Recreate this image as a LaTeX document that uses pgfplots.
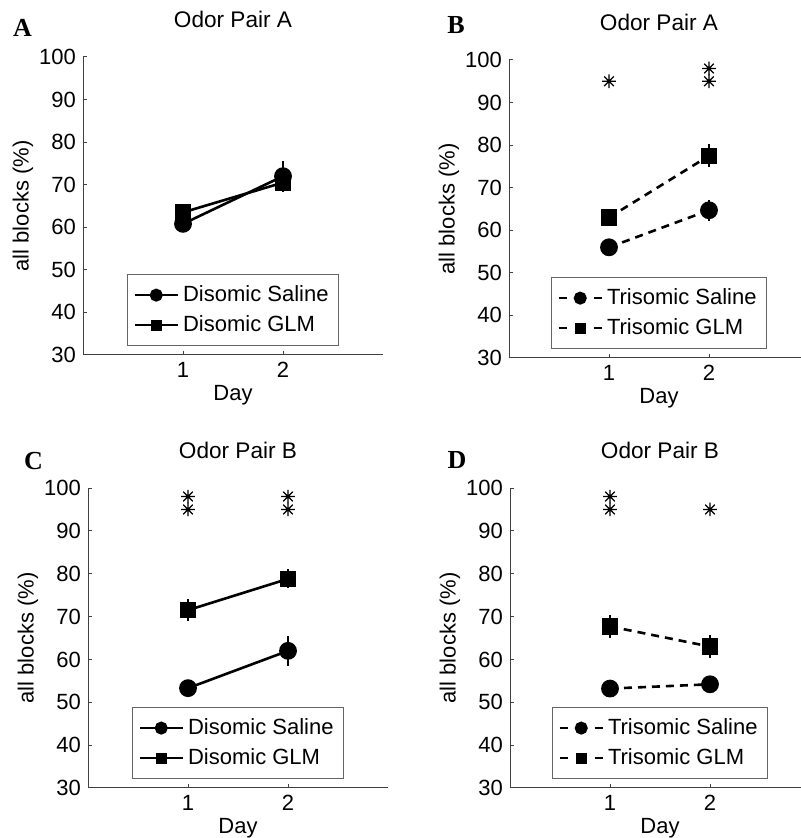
\documentclass[border=0pt]{standalone}
\usepackage{fontspec}
\setmainfont{Liberation Sans}
\newfontfamily\letterfont{Liberation Serif}
\usepackage{pgfplots}
\pgfplotsset{compat=1.18}

% MATLAB-style asterisk with eight arms
\pgfdeclareplotmark{ast8}{%
  \pgfpathmoveto{\pgfqpoint{0pt}{\pgfplotmarksize}}%
  \pgfpathlineto{\pgfqpoint{0pt}{-\pgfplotmarksize}}%
  \pgfpathmoveto{\pgfqpoint{\pgfplotmarksize}{0pt}}%
  \pgfpathlineto{\pgfqpoint{-\pgfplotmarksize}{0pt}}%
  \pgfpathmoveto{\pgfqpoint{.707\pgfplotmarksize}{.707\pgfplotmarksize}}%
  \pgfpathlineto{\pgfqpoint{-.707\pgfplotmarksize}{-.707\pgfplotmarksize}}%
  \pgfpathmoveto{\pgfqpoint{-.707\pgfplotmarksize}{.707\pgfplotmarksize}}%
  \pgfpathlineto{\pgfqpoint{.707\pgfplotmarksize}{-.707\pgfplotmarksize}}%
  \pgfusepathqstroke}

\pgfplotsset{
  panel/.style={
    scale only axis, width=150pt, height=149pt,
    xmin=0, xmax=3, ymin=30, ymax=100,
    xtick={1,2}, ytick={30,40,...,100},
    axis lines*=left,
    axis line style={black!75, line width=0.5pt},
    tick align=inside, major tick length=2pt,
    tick style={black!75, line width=0.5pt},
    ticklabel style={font=\fontsize{11}{12}\selectfont},
    /pgf/number format/assume math mode=true,
    xlabel={Day}, ylabel={all blocks (\%)},
    label style={font=\fontsize{11}{13}\selectfont},
    xlabel style={at={(axis description cs:0.5,0)}, anchor=center, yshift=-20pt},
    ylabel style={at={(axis description cs:-0.2,0.5)}, anchor=center},
    title style={at={(axis description cs:0.5,1)}, anchor=base, yshift=8.5pt,
      font=\fontsize{11.3}{13}\selectfont},
    legend style={at={(axis description cs:0.5,0.03)}, anchor=south,
      draw=black!60, line width=0.5pt, font=\fontsize{11}{12.5}\selectfont,
      cells={anchor=west}, inner xsep=3pt, inner ysep=3.5pt, row sep=1.5pt},
    legend image code/.code={%
      \draw[mark repeat=2, mark phase=2] plot coordinates {(0pt,0pt) (10.75pt,0pt) (21.5pt,0pt)};},
    clip=false,
  },
  dat/.style={black, line width=1.3pt, mark options={solid, fill=black},
    error bars/y dir=both, error bars/y explicit, error bars/error mark=none,
    error bars/error bar style={solid, line width=1.2pt}},
  sal/.style={mark=*, mark size=3.8pt},
  glm/.style={mark=square*, mark size=3.4pt},
  dsh/.style={dash pattern=on 4pt off 3pt},
  legsal/.style={black, line width=1.3pt, mark=*, mark size=2.6pt, mark options={solid}},
  legglm/.style={black, line width=1.3pt, mark=square*, mark size=2.1pt, mark options={solid}},
  legdsh/.style={dash pattern=on 4pt off 13.5pt},
  stars/.style={only marks, mark=ast8, mark size=3.4pt, black, line width=0.6pt},
}

\begin{document}
\begin{tikzpicture}
\path[use as bounding box] (0,0) rectangle (400pt,419pt);

% A
\begin{axis}[panel, at={(41.5pt,241.5pt)}, anchor=south west, title={Odor Pair A}]
\addlegendimage{legsal}
\addlegendentry{Disomic Saline}
\addlegendimage{legglm}
\addlegendentry{Disomic GLM}
\addplot[dat, sal, forget plot] coordinates {(1,60.8) +- (0,1.8) (2,72.0) +- (0,3.6)};
\addplot[dat, glm, forget plot] coordinates {(1,63.5) +- (0,2.0) (2,70.5) +- (0,1.8)};
\end{axis}

% B
\begin{axis}[panel, at={(254.5pt,240pt)}, anchor=south west, title={Odor Pair A}]
\addlegendimage{legsal, legdsh}
\addlegendentry{Trisomic Saline}
\addlegendimage{legglm, legdsh}
\addlegendentry{Trisomic GLM}
\addplot[dat, sal, dsh, forget plot] coordinates {(1,56.0) +- (0,1.0) (2,64.7) +- (0,2.5)};
\addplot[dat, glm, dsh, forget plot] coordinates {(1,63.0) +- (0,1.5) (2,77.5) +- (0,2.7)};
\addplot[stars, forget plot] coordinates {(1,95) (2,95) (2,98)};
\end{axis}

% C
\begin{axis}[panel, at={(44pt,25pt)}, anchor=south west, height=150pt, title={Odor Pair B}]
\addlegendimage{legsal}
\addlegendentry{Disomic Saline}
\addlegendimage{legglm}
\addlegendentry{Disomic GLM}
\addplot[dat, sal, forget plot] coordinates {(1,53.3) +- (0,1.0) (2,62.0) +- (0,3.5)};
\addplot[dat, glm, forget plot] coordinates {(1,71.5) +- (0,2.5) (2,78.8) +- (0,2.2)};
\addplot[stars, forget plot] coordinates {(1,95) (1,98) (2,95) (2,98)};
\end{axis}

% D
\begin{axis}[panel, at={(255pt,25pt)}, anchor=south west, height=150pt, title={Odor Pair B}]
\addlegendimage{legsal, legdsh}
\addlegendentry{Trisomic Saline}
\addlegendimage{legglm, legdsh}
\addlegendentry{Trisomic GLM}
\addplot[dat, sal, dsh, forget plot] coordinates {(1,53.2) +- (0,1.0) (2,54.2) +- (0,1.0)};
\addplot[dat, glm, dsh, forget plot] coordinates {(1,67.7) +- (0,2.6) (2,63.0) +- (0,2.6)};
\addplot[stars, forget plot] coordinates {(1,95) (1,98) (2,95)};
\end{axis}

\node[font=\letterfont\bfseries\fontsize{13}{14}\selectfont] at (11.25pt,405.25pt) {A};
\node[font=\letterfont\bfseries\fontsize{13}{14}\selectfont] at (228pt,406.5pt) {B};
\node[font=\letterfont\bfseries\fontsize{13}{14}\selectfont] at (16.75pt,188.5pt) {C};
\node[font=\letterfont\bfseries\fontsize{13}{14}\selectfont] at (228.5pt,189pt) {D};
\end{tikzpicture}
\end{document}
